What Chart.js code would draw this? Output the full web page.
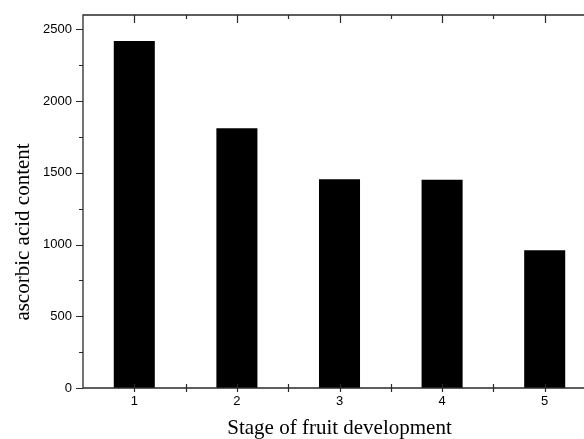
<!DOCTYPE html>
<html>
<head>
<meta charset="utf-8">
<script src="https://cdn.jsdelivr.net/npm/chart.js@4/dist/chart.umd.min.js"></script>
<style>
html,body{margin:0;padding:0;background:#fff;overflow:hidden;width:584px;height:439px;}
canvas{display:block;}
</style>
</head>
<body>
<canvas id="c" width="600" height="439"></canvas>
<script>
const categories = ['1', '2', '3', '4', '5'];
const ascorbicAcid = [2418, 1810, 1455, 1452, 960];
const yTickValues = [0, 500, 1000, 1500, 2000, 2500];
const yMinorValues = [250, 750, 1250, 1750, 2250];
const yTitle = 'ascorbic acid content';
const xTitle = 'Stage of fruit development';

const AXIS = '#2a2a2a';

const framePlugin = {
  id: 'frame',
  afterDatasetsDraw(chart) {
    const {ctx, chartArea: a, scales} = chart;
    const x = scales.x, y = scales.y;
    ctx.save();
    ctx.strokeStyle = AXIS;
    ctx.lineWidth = 1.3;
    ctx.beginPath();
    ctx.rect(a.left, a.top, a.right - a.left, a.bottom - a.top);
    ctx.stroke();
    ctx.lineWidth = 1.2;
    ctx.beginPath();
    yTickValues.forEach(v => {
      const p = Math.round(y.getPixelForValue(v)) + 0.5;
      ctx.moveTo(a.left - 7, p); ctx.lineTo(a.left, p);
    });
    yMinorValues.forEach(v => {
      const p = Math.round(y.getPixelForValue(v)) + 0.5;
      ctx.moveTo(a.left - 4, p); ctx.lineTo(a.left, p);
    });
    categories.forEach((c, i) => {
      const px = Math.round(x.getPixelForValue(i)) + 0.5;
      ctx.moveTo(px, a.top); ctx.lineTo(px, a.top + 8);
      ctx.moveTo(px, a.bottom - 4); ctx.lineTo(px, a.bottom + 4);
      if (i < categories.length - 1) {
        const mx = Math.round((x.getPixelForValue(i) + x.getPixelForValue(i + 1)) / 2) + 0.5;
        ctx.moveTo(mx, a.top); ctx.lineTo(mx, a.top + 4);
        ctx.moveTo(mx, a.bottom - 4); ctx.lineTo(mx, a.bottom + 4);
      }
    });
    ctx.stroke();
    ctx.fillStyle = '#000';
    ctx.font = '21px "Liberation Serif", "Times New Roman", serif';
    ctx.textAlign = 'center';
    ctx.textBaseline = 'alphabetic';
    ctx.translate(29, 232);
    ctx.rotate(-Math.PI / 2);
    ctx.fillText(yTitle, 0, 0);
    ctx.restore();
  }
};

new Chart(document.getElementById('c'), {
  type: 'bar',
  data: {
    labels: categories,
    datasets: [{
      data: ascorbicAcid,
      backgroundColor: '#000',
      borderWidth: 0,
      barPercentage: 0.4,
      categoryPercentage: 1.0
    }]
  },
  options: {
    responsive: false,
    animation: false,
    devicePixelRatio: 1,
    layout: { padding: { top: 15, right: 4, left: 0, bottom: 0 } },
    plugins: { legend: { display: false }, tooltip: { enabled: false } },
    scales: {
      x: {
        offset: true,
        grid: { display: false, tickLength: 0 },
        border: { display: false },
        ticks: { color: '#000', font: { family: '"Liberation Sans", Arial, sans-serif', size: 13 }, padding: 6, maxRotation: 0 },
        title: { display: true, text: xTitle, color: '#000', font: { family: '"Liberation Serif", "Times New Roman", serif', size: 21 }, padding: { top: 0, bottom: -2 } },
        afterFit(s) { s.height = 51; s.paddingLeft = 0; s.paddingRight = 0; }
      },
      y: {
        min: 0,
        max: 2600,
        grid: { display: false, tickLength: 0 },
        border: { display: false },
        afterBuildTicks(s) { s.ticks = yTickValues.map(v => ({ value: v })); },
        ticks: { color: '#000', font: { family: '"Liberation Sans", Arial, sans-serif', size: 13 }, padding: 11, callback: v => String(v) },
        afterFit(s) { s.width = 83; s.paddingTop = 0; s.paddingBottom = 0; }
      }
    }
  },
  plugins: [framePlugin]
});
</script>
</body>
</html>
